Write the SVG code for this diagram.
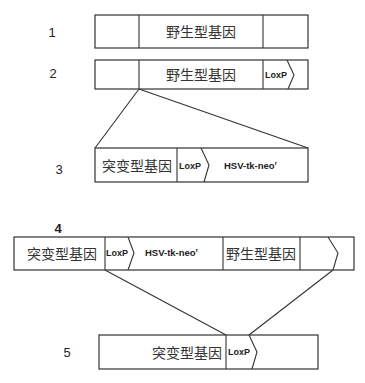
<svg xmlns="http://www.w3.org/2000/svg" width="365" height="383" viewBox="0 0 365 383">
<style>
.box{fill:#fff;stroke:#333;stroke-width:1.2}
.ln{fill:none;stroke:#333;stroke-width:1.1}
.cn{font-family:"Noto Sans CJK SC","Noto Sans CJK JP",sans-serif;font-size:14px;fill:#333}
.lx{font-family:"Liberation Sans",Arial,sans-serif;font-size:9px;font-weight:bold;fill:#222}
.hs{font-family:"Liberation Sans",Arial,sans-serif;font-size:9.5px;font-weight:bold;fill:#222}
.num{font-family:"Liberation Sans",Arial,sans-serif;font-size:13px;fill:#222}
</style>
<rect width="365" height="383" fill="#fff"/>
<g id="connectors">
<path class="ln" d="M139 89 L95 148 M139 89 L308 148"/>
<path class="ln" d="M105 270 L226 335 M333 270 L249 335"/>
</g>
<g id="row1">
<text class="num" x="52" y="37" text-anchor="middle">1</text>
<rect class="box" x="95" y="15" width="213" height="33"/>
<path class="ln" d="M139 15 V48 M263 15 V48"/>
<text class="cn" x="201" y="37" text-anchor="middle">野生型基因</text>
</g>
<g id="row2">
<text class="num" x="53" y="78" text-anchor="middle">2</text>
<rect class="box" x="95" y="60" width="213" height="29"/>
<path class="ln" d="M139 60 V89 M263 60 V89 M287 60 L294 75 L288 89"/>
<text class="cn" x="201" y="80" text-anchor="middle">野生型基因</text>
<text class="lx" x="265" y="78">LoxP</text>
</g>
<g id="row3">
<text class="num" x="59" y="174" text-anchor="middle">3</text>
<rect class="box" x="95" y="148" width="213" height="34"/>
<path class="ln" d="M177 148 V182 M201 148 L209 165 L204 182"/>
<text class="cn" x="137" y="171" text-anchor="middle">突变型基因</text>
<text class="lx" x="179" y="169">LoxP</text>
<text class="hs" x="224" y="169">HSV-tk-neo<tspan font-size="6" dy="-4">r</tspan></text>
</g>
<g id="row4">
<text class="num" x="58" y="233" text-anchor="middle" font-weight="bold">4</text>
<rect class="box" x="14" y="237" width="340" height="33"/>
<path class="ln" d="M105 237 V270 M223 237 V270 M300 237 V270 M128 237 L134 253 L128 270 M328 237 L338 253 L333 270"/>
<text class="cn" x="62" y="259" text-anchor="middle">突变型基因</text>
<text class="lx" x="106" y="256">LoxP</text>
<text class="hs" x="145" y="256">HSV-tk-neo<tspan font-size="6" dy="-4">r</tspan></text>
<text class="cn" x="261" y="259" text-anchor="middle">野生型基因</text>
</g>
<g id="row5">
<text class="num" x="67" y="357" text-anchor="middle">5</text>
<rect class="box" x="99" y="335" width="219" height="34"/>
<path class="ln" d="M226 335 V369 M249 335 L257 352 L252 369"/>
<text class="cn" x="222" y="358" text-anchor="end">突变型基因</text>
<text class="lx" x="228" y="355">LoxP</text>
</g>
</svg>
